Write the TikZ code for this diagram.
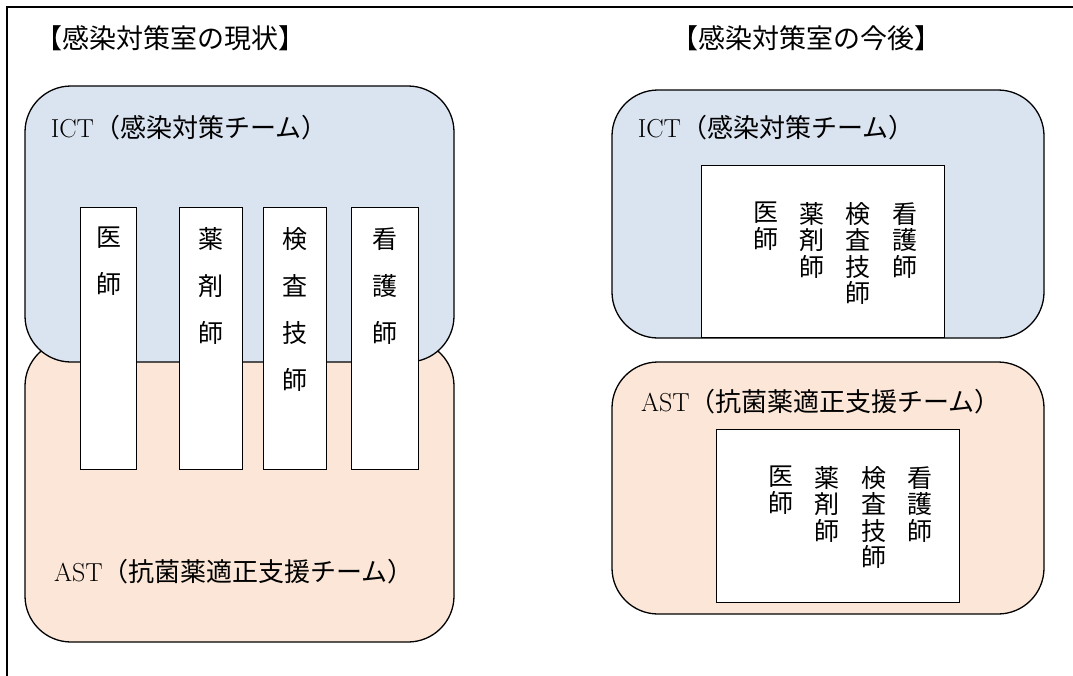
\documentclass[tikz,border=0pt]{standalone}
\usepackage{fontspec}
\newfontfamily\cjk{Noto Sans CJK JP}
\definecolor{ictfill}{HTML}{DAE3F0}
\definecolor{astfill}{HTML}{FBE6D7}
\tikzset{
  team/.style={draw=black, line width=1.3pt, rounded corners=46pt},
  colbox/.style={draw=black, fill=white, line width=1.2pt, inner sep=0pt, anchor=north west},
  title/.style={inner sep=0pt, font=\fontsize{27}{30}\selectfont},
  teamlabel/.style={inner sep=0pt, font=\fontsize{26}{30}\selectfont},
  vtextwide/.style={inner sep=0pt, anchor=north, align=center, font=\cjk\fontsize{25}{47}\selectfont},
  vtextnarrow/.style={inner sep=0pt, anchor=north, align=center, font=\cjk\fontsize{25}{26.5}\selectfont},
}
\begin{document}
\begin{tikzpicture}[x=1pt,y=-1pt]
\useasboundingbox (0,0) rectangle (1073,675);
% outer frame
\coordinate (fbl) at (7,676);
\coordinate (ftl) at (7,7);
\coordinate (ftr) at (1074,7);
\draw[line width=1.5pt] (fbl) -- (ftl) -- (ftr);

% titles
\node[title] (t1) at (170,38) {\cjk 【感染対策室の現状】};
\node[title] (t2) at (806,38) {\cjk 【感染対策室の今後】};

% ---- left: current ----
\path[team, fill=astfill] (25,340) rectangle (454,642);
\path[team, fill=ictfill] (25,86) rectangle (454,362);
\node[teamlabel] (ictL) at (189,128) {ICT{\cjk （感染対策チーム）}};
\node[teamlabel] (astL) at (234,572) {AST{\cjk （抗菌薬適正支援チーム）}};

\node[colbox, minimum width=56pt, minimum height=262pt] (c1) at (80,207) {};
\node[colbox, minimum width=63pt, minimum height=262pt] (c2) at (179,207) {};
\node[colbox, minimum width=63pt, minimum height=262pt] (c3) at (263,207) {};
\node[colbox, minimum width=67pt, minimum height=262pt] (c4) at (351,207) {};
\node[vtextwide] (w1) at (109,227) {医\\師};
\node[vtextwide] (w2) at (211,227) {薬\\剤\\師};
\node[vtextwide] (w3) at (295,227) {検\\査\\技\\師};
\node[vtextwide] (w4) at (385,227) {看\\護\\師};

% ---- right: future ----
\path[team, fill=ictfill] (612,90) rectangle (1044,338);
\path[team, fill=astfill] (612,362) rectangle (1044,614);
\node[teamlabel] (ictR) at (776,128) {ICT{\cjk （感染対策チーム）}};
\node[teamlabel] (astR) at (821,402) {AST{\cjk （抗菌薬適正支援チーム）}};

\node[colbox, minimum width=243pt, minimum height=172pt] (bi) at (701,165) {};
\node[vtextnarrow] (i1) at (766,202) {医\\師};
\node[vtextnarrow] (i2) at (812,202) {薬\\剤\\師};
\node[vtextnarrow] (i3) at (858,202) {検\\査\\技\\師};
\node[vtextnarrow] (i4) at (905,202) {看\\護\\師};

\node[colbox, minimum width=243pt, minimum height=173pt] (ba) at (716,429) {};
\node[vtextnarrow] (a1) at (781,466) {医\\師};
\node[vtextnarrow] (a2) at (827,466) {薬\\剤\\師};
\node[vtextnarrow] (a3) at (874,466) {検\\査\\技\\師};
\node[vtextnarrow] (a4) at (920,466) {看\\護\\師};
\end{tikzpicture}
\end{document}
